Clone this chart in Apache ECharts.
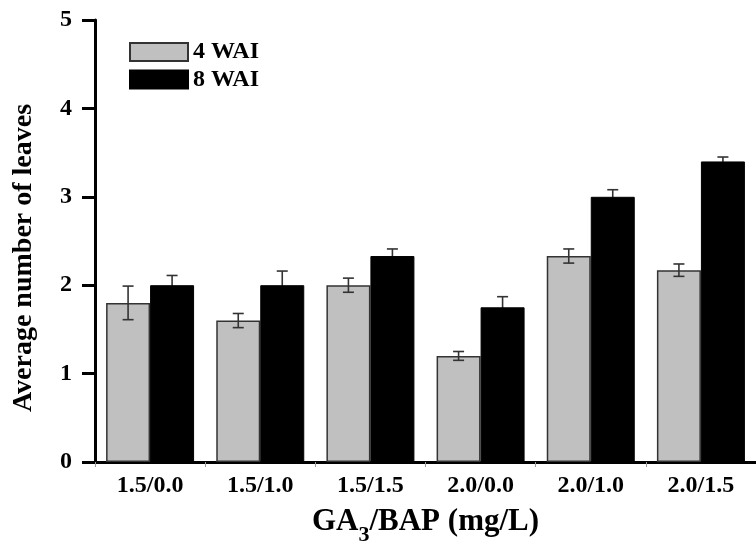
<!DOCTYPE html>
<html>
<head>
<meta charset="utf-8">
<script src="https://cdn.jsdelivr.net/npm/echarts@6/dist/echarts.min.js"></script>
<style>html,body{margin:0;padding:0;background:#fff;}#c{width:756px;height:551px;}</style>
</head>
<body>
<div id="c"></div>
<script>
const categories = ['1.5/0.0', '1.5/1.0', '1.5/1.5', '2.0/0.0', '2.0/1.0', '2.0/1.5'];
const wai4 = [1.8, 1.6, 2.0, 1.2, 2.33, 2.17];
const wai4Err = [0.19, 0.08, 0.08, 0.05, 0.08, 0.07];
const wai8 = [2.0, 2.0, 2.33, 1.75, 3.0, 3.4];
const wai8Err = [0.11, 0.16, 0.08, 0.12, 0.08, 0.05];
const yTicks = [0, 1, 2, 3, 4, 5];

const FONT = 'Liberation Serif';
const BAR_W = 44;

function errSeries(name, vals, errs, offset, z) {
  return {
    type: 'custom',
    name: name + ' err',
    z: z,
    silent: true,
    data: vals.map((v, i) => [i, v, errs[i]]),
    renderItem: function (params, api) {
      const i = api.value(0), v = api.value(1), e = api.value(2);
      const top = api.coord([i, v + e]);
      const bot = api.coord([i, v - e]);
      const x = top[0] + offset;
      const cw = 5.5;
      const st = { stroke: '#333', lineWidth: 1.6 };
      return {
        type: 'group',
        children: [
          { type: 'line', shape: { x1: x, y1: top[1], x2: x, y2: bot[1] }, style: st },
          { type: 'line', shape: { x1: x - cw, y1: top[1], x2: x + cw, y2: top[1] }, style: st },
          { type: 'line', shape: { x1: x - cw, y1: bot[1], x2: x + cw, y2: bot[1] }, style: st }
        ]
      };
    }
  };
}

const chart = echarts.init(document.getElementById('c'), null, { renderer: 'canvas' });
chart.setOption({
  animation: false,
  backgroundColor: '#fff',
  grid: { left: 95, right: -8, top: 20, bottom: 85.5, containLabel: false },
  legend: {
    left: 124, top: 35, orient: 'vertical',
    icon: 'rect',
    itemWidth: 58, itemHeight: 18, itemGap: 3.5,
    data: ['4 WAI', '8 WAI'],
    textStyle: { fontFamily: FONT, fontWeight: 'bold', fontSize: 24, color: '#000' }
  },
  xAxis: [{
    type: 'category',
    data: categories,
    axisLine: { lineStyle: { color: '#000', width: 3 } },
    axisTick: { show: false },
    axisLabel: { fontFamily: FONT, fontWeight: 'bold', fontSize: 24, color: '#000', margin: 12 },
    name: '{a|GA}{s|3}{a|/BAP (mg/L)}',
    nameLocation: 'middle',
    nameGap: 44,
    nameTextStyle: {
      rich: {
        a: { fontFamily: FONT, fontWeight: 'bold', fontSize: 31, color: '#000', verticalAlign: 'bottom' },
        s: { fontFamily: FONT, fontWeight: 'bold', fontSize: 22, color: '#000', padding: [0, 0, -9, 0], verticalAlign: 'bottom' }
      }
    }
  }, {
    type: 'category',
    data: categories.flatMap(c => [c + 'a', c + 'b']),
    position: 'bottom',
    axisLine: { show: false },
    axisLabel: { show: false },
    axisTick: { show: true, length: 5, lineStyle: { color: '#999', width: 1 } },
    splitLine: { show: false }
  }],
  yAxis: {
    type: 'value',
    min: 0, max: 5, interval: 1,
    splitLine: { show: false },
    axisLine: { show: true, lineStyle: { color: '#000', width: 3 } },
    axisTick: { show: true, inside: false, length: 13, lineStyle: { color: '#000', width: 3 } },
    axisLabel: { fontFamily: FONT, fontWeight: 'bold', fontSize: 24, color: '#000', margin: 23,
      formatter: v => yTicks.includes(v) ? String(v) : '' },
    name: 'Average number of leaves',
    nameLocation: 'middle',
    nameGap: 57,
    nameTextStyle: { fontFamily: FONT, fontWeight: 'bold', fontSize: 28, color: '#000', padding: [0, 34, 0, 0] }
  },
  series: [
    {
      type: 'bar', name: '4 WAI', data: wai4, barWidth: BAR_W, barGap: '0%', z: 2,
      itemStyle: { color: '#c0c0c0', borderColor: '#333', borderWidth: 1.5 }
    },
    {
      type: 'bar', name: '8 WAI', data: wai8, barWidth: BAR_W, barGap: '0%', z: 2,
      itemStyle: { color: '#000', borderColor: '#000', borderWidth: 1 }
    },
    errSeries('4 WAI', wai4, wai4Err, -BAR_W / 2, 5),
    errSeries('8 WAI', wai8, wai8Err, BAR_W / 2, 1)
  ]
});
</script>
</body>
</html>
